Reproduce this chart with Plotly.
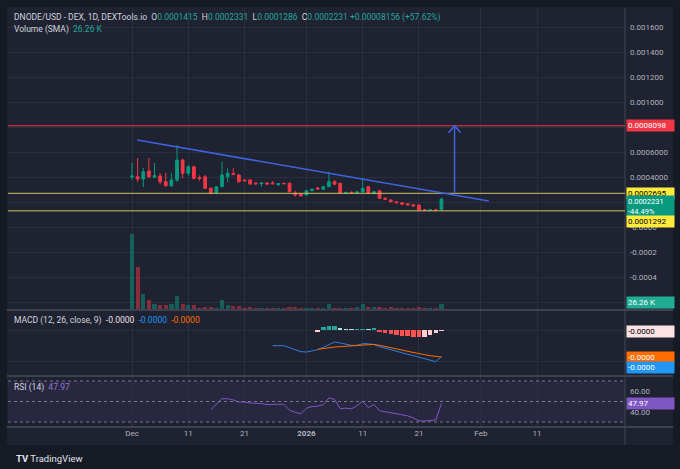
import pandas as pd
import plotly.graph_objects as go

FONT = "Roboto"
UP = "#089981"
DOWN = "#f23645"
BG_OUT = "#161a25"
BG_CHART = "#1e2231"
GRID = "#2a2f3e"
TXT = "#b2b5be"

# daily candles, Dec 1 2025 .. Jan 25 2026
dates = pd.date_range("2025-12-01", periods=56, freq="D")
opens = [0.000400, 0.000402, 0.000384, 0.000448, 0.000400, 0.000408, 0.000362, 0.000330,
         0.000376, 0.000536, 0.000430, 0.000482, 0.000396, 0.000402, 0.000310, 0.000270,
         0.000322, 0.000402, 0.000428, 0.000416, 0.000376, 0.000376, 0.000350, 0.000346,
         0.000352, 0.000352, 0.000338, 0.000348, 0.000350, 0.000272, 0.000264, 0.000256,
         0.000290, 0.000312, 0.000302, 0.000322, 0.000362, 0.000350, 0.000270, 0.000278,
         0.000272, 0.000280, 0.000322, 0.000268, 0.000290, 0.000230, 0.000216, 0.000202,
         0.000194, 0.000186, 0.000178, 0.000176, 0.000137, 0.000134, 0.000137, 0.0001415]
highs = [0.000512, 0.000552, 0.000472, 0.000552, 0.000512, 0.000430, 0.000434, 0.000434,
         0.000656, 0.000544, 0.000496, 0.000488, 0.000412, 0.000416, 0.000316, 0.000328,
         0.000522, 0.000470, 0.000470, 0.000424, 0.000382, 0.000382, 0.000362, 0.000356,
         0.000358, 0.000368, 0.000350, 0.000358, 0.000356, 0.000290, 0.000270, 0.000296,
         0.000310, 0.000320, 0.000330, 0.000442, 0.000376, 0.000352, 0.000284, 0.000284,
         0.000290, 0.000390, 0.000330, 0.000290, 0.000296, 0.000240, 0.000222, 0.000206,
         0.000200, 0.000192, 0.000182, 0.000180, 0.000142, 0.000140, 0.000141, 0.0002331]
lows = [0.000376, 0.000360, 0.000320, 0.000392, 0.000390, 0.000340, 0.000322, 0.000322,
        0.000362, 0.000392, 0.000410, 0.000380, 0.000370, 0.000304, 0.000262, 0.000262,
        0.000322, 0.000360, 0.000416, 0.000352, 0.000362, 0.000338, 0.000338, 0.000322,
        0.000340, 0.000342, 0.000330, 0.000344, 0.000280, 0.000242, 0.000246, 0.000252,
        0.000286, 0.000300, 0.000298, 0.000318, 0.000340, 0.000266, 0.000264, 0.000268,
        0.000264, 0.000276, 0.000266, 0.000262, 0.000226, 0.000218, 0.000198, 0.000190,
        0.000178, 0.000172, 0.000164, 0.000130, 0.000130, 0.000131, 0.000132, 0.0001286]
closes = [0.000408, 0.000384, 0.000442, 0.000402, 0.000410, 0.000362, 0.000330, 0.000376,
          0.000536, 0.000430, 0.000482, 0.000390, 0.000390, 0.000310, 0.000270, 0.000322,
          0.000416, 0.000430, 0.000420, 0.000362, 0.000370, 0.000344, 0.000346, 0.000352,
          0.000344, 0.000346, 0.000346, 0.000346, 0.000282, 0.000256, 0.000248, 0.000290,
          0.000302, 0.000304, 0.000322, 0.000362, 0.000342, 0.000270, 0.000276, 0.000272,
          0.000280, 0.000308, 0.000270, 0.000282, 0.000230, 0.000222, 0.000202, 0.000194,
          0.000182, 0.000176, 0.000168, 0.000136, 0.000134, 0.000137, 0.000135, 0.0002231]
volumes = [303000, 168500, 60600, 37600, 19000, 14900, 16200, 21400, 52500, 20200, 17400,
           16200, 5300, 8100, 6900, 4000, 37600, 16200, 10900, 10900, 5300, 8100, 4000, 2800,
           4000, 4000, 2800, 5300, 8100, 8100, 5300, 5300, 4000, 5300, 2800, 19000, 4000, 4000,
           4000, 2800, 8100, 19000, 9300, 8100, 9300, 4000, 6900, 2800, 4000, 4000, 5300, 8100,
           4000, 4000, 2800, 21400]
volume_sma_last = 26260

# MACD (12, 26, close, 9), values in millionths
macd_start = 25
macd_line = [-6.27, -6.27, -6.27, -7.07, -8.0, -8.67, -8.8, -8.4, -7.87, -6.93, -6.0, -4.8,
             -5.2, -5.73, -6.13, -6.13, -5.47, -5.47, -5.87, -6.67, -7.33, -7.87, -8.53,
             -9.07, -9.73, -10.27, -10.93, -11.6, -12.27, -12.67, -10.67]
signal_start = 33
signal_line = [-7.73, -7.33, -6.93, -6.8, -6.67, -6.53, -6.4, -6.27, -6.13, -5.87, -5.73,
               -6.13, -6.53, -6.93, -7.47, -8.0, -8.53, -9.07, -9.47, -9.87, -10.27, -10.67, -10.8]
macd_hist = [-0.6, 1.2, 1.6, 1.7, 0.9, 0.15, 0.15, 0.2, 0.4, 0.3, 0.5, -0.8, -1.2, -1.6,
             -2.0, -2.2, -2.4, -2.6, -2.8, -2.7, -2.0, -1.3, -0.4]

# RSI (14)
rsi_start = 14
rsi_values = [42, 47, 52.7, 52.7, 51.5, 49.5, 49.5, 48.5, 48.5, 48, 47, 47.5, 47.3, 47.3,
              41.5, 39.5, 38, 43.5, 45, 45.5, 47, 53.5, 52, 43, 43.5, 42.8, 46, 50.3, 44, 47,
              41, 40, 39, 38, 36.5, 36, 34, 31, 31, 31.5, 32, 47.97]

# drawings on the chart
trend_dates = ["2025-12-01 22:00", "2026-02-02 10:00"]
trend_prices = [0.000696, 0.000208]
arrow_date = "2026-01-27 08:00"
arrow_from = 0.000269
arrow_to = 0.00081
red_level = 0.0008098
yellow_levels = [0.0002695, 0.0001292]
change_pct = "-44.49%"

x_range = ["2025-11-08 23:00", "2026-02-26 15:00"]
x_tick_dates = ["2025-12-01", "2025-12-11", "2025-12-21", "2026-01-01",
                "2026-01-11", "2026-01-21", "2026-02-01", "2026-02-11"]
x_tick_text = ["Dec", "11", "21", "<b>2026</b>", "11", "21", "Feb", "11"]
price_ticks = [0.0016, 0.0014, 0.0012, 0.0010, 0.0008, 0.0006, 0.0004, 0.0002,
               0.0, -0.0002, -0.0004, -0.0006]
price_tick_text = ["0.001600", "0.001400", "0.001200", "0.001000", "", "0.0006000",
                   "0.0004000", "", "-0.0000", "-0.0002", "-0.0004", ""]

W, H = 680, 469
L, R, T, B = 8, 55, 8, 42


def px(x):
    return (x - L) / (W - L - R)


def py(y):
    return (H - B - y) / (H - T - B)


vol_colors = ["rgba(8,153,129,0.5)" if c >= o else "rgba(242,54,69,0.5)"
              for o, c in zip(opens, closes)]

hist_colors = []
for i, v in enumerate(macd_hist):
    prev = macd_hist[i - 1] if i > 0 else None
    if v >= 0:
        hist_colors.append("#26a69a" if prev is not None and v > prev else "#b2dfdb")
    else:
        hist_colors.append("#ff5252" if prev is not None and v < prev else "#ffcdd2")

fig = go.Figure()

fig.add_trace(go.Bar(
    x=dates, y=volumes, yaxis="y2", marker_color=vol_colors, marker_line_width=0,
    width=0.75 * 86400000, hoverinfo="skip"))

fig.add_trace(go.Candlestick(
    x=dates, open=opens, high=highs, low=lows, close=closes,
    increasing=dict(line=dict(color=UP, width=1), fillcolor=UP),
    decreasing=dict(line=dict(color=DOWN, width=1), fillcolor=DOWN),
    whiskerwidth=0, hoverinfo="skip"))

fig.add_trace(go.Bar(
    x=dates[signal_start:], y=macd_hist, yaxis="y3", marker_color=hist_colors,
    marker_line_width=0, width=0.8 * 86400000, hoverinfo="skip"))
fig.add_trace(go.Scatter(
    x=dates[macd_start:], y=macd_line, yaxis="y3", mode="lines",
    line=dict(color="#2f7fd8", width=1), hoverinfo="skip"))
fig.add_trace(go.Scatter(
    x=dates[signal_start:], y=signal_line, yaxis="y3", mode="lines",
    line=dict(color="#ff6d00", width=1), hoverinfo="skip"))

fig.add_trace(go.Scatter(
    x=dates[rsi_start:], y=rsi_values, yaxis="y4", mode="lines",
    line=dict(color="#7e57c2", width=1), hoverinfo="skip"))

shapes = []
# chart panel background
shapes.append(dict(type="rect", xref="paper", yref="paper", x0=px(7), x1=px(673),
                   y0=py(445), y1=py(7), fillcolor=BG_CHART, line_width=0, layer="below"))
# RSI band
shapes.append(dict(type="rect", xref="paper", yref="y4", x0=0, x1=1, y0=30, y1=70,
                   fillcolor="rgba(126,87,194,0.1)", line_width=0, layer="below"))
for lvl in [70, 50, 30]:
    shapes.append(dict(type="line", xref="paper", yref="y4", x0=0, x1=1, y0=lvl, y1=lvl,
                       line=dict(color="#787b86", width=1, dash="3px,3px")))
# separators
for sy in [310, 376, 427]:
    shapes.append(dict(type="line", xref="paper", yref="paper", x0=px(7), x1=px(673),
                       y0=py(sy), y1=py(sy), line=dict(color="#5d6170", width=1)))
shapes.append(dict(type="line", xref="paper", yref="paper", x0=1, x1=1,
                   y0=py(445), y1=py(8), line=dict(color="#434651", width=1)))
# horizontal levels
shapes.append(dict(type="line", xref="paper", yref="y", x0=0, x1=1, y0=red_level,
                   y1=red_level, line=dict(color=DOWN, width=1)))
for lvl in yellow_levels:
    shapes.append(dict(type="line", xref="paper", yref="y", x0=0, x1=1, y0=lvl, y1=lvl,
                       line=dict(color="#cfc45c", width=1)))
# trend line
shapes.append(dict(type="line", xref="x", yref="y", x0=trend_dates[0], x1=trend_dates[1],
                   y0=trend_prices[0], y1=trend_prices[1],
                   line=dict(color="#3f63e0", width=1.5)))
# target arrow
shapes.append(dict(type="line", xref="x", yref="y", x0=arrow_date, x1=arrow_date,
                   y0=arrow_from, y1=arrow_to, line=dict(color="#3f63e0", width=1.5)))
shapes.append(dict(type="path", xref="x", yref="y", xsizemode="pixel", ysizemode="pixel",
                   xanchor=arrow_date, yanchor=arrow_to, path="M-6,-7 L0,0 L6,-7",
                   line=dict(color="#3f63e0", width=1.5)))


def axis_label(text, y, yref, bg, fg, yshift=0, size=8):
    return dict(xref="paper", x=1, xanchor="left", xshift=1, yref=yref, y=y,
                yanchor="middle", yshift=yshift, text=text, showarrow=False,
                bgcolor=bg, font=dict(color=fg, size=size, family=FONT), borderpad=1,
                width=45, align="left")


def header(text, y):
    return dict(xref="paper", yref="paper", x=px(12), y=py(y), xanchor="left",
                yanchor="middle", text=text, showarrow=False,
                font=dict(color="#d1d4dc", size=8.5, family=FONT))


def teal(s):
    return '<span style="color:#26a69a">%s</span>' % s


annotations = [
    header("DNODE/USD - DEX, 1D, DEXTools.io  O" + teal("%.7f" % opens[-1]) + "  H"
           + teal("%.7f" % highs[-1]) + "  L" + teal("%.7f" % lows[-1]) + "  C"
           + teal("%.7f" % closes[-1]) + " " + teal("+0.00008156 (+57.62%)"), 17),
    header("Volume (SMA)  " + teal("26.26 K"), 29),
    header('MACD (12, 26, close, 9)  <span style="color:#f0e0e2">-0.0000</span>  '
           '<span style="color:#2196f3">-0.0000</span>  '
           '<span style="color:#ff6d00">-0.0000</span>', 320),
    header('RSI (14)  <span style="color:#9575cd">%.2f</span>' % rsi_values[-1], 387),
    axis_label("%.7f" % red_level, red_level, "y", DOWN, "white"),
    axis_label("%.7f" % yellow_levels[0], yellow_levels[0], "y", "#ffeb3b", "black"),
    axis_label("%.7f<br>%s" % (closes[-1], change_pct), closes[-1], "y", UP, "white",
               -7, 7.5),
    axis_label("%.7f" % yellow_levels[1], yellow_levels[1], "y", "#ffeb3b", "black", -11),
    axis_label("26.26 K", volume_sma_last, "y2", "#22ab94", "white"),
    axis_label("-0.0000", macd_hist[-1], "y3", "#fde2e4", "black"),
    axis_label("-0.0000", signal_line[-1], "y3", "#ff6d00", "white"),
    axis_label("-0.0000", macd_line[-1], "y3", "#2196f3", "white", -11),
    axis_label("%.2f" % rsi_values[-1], rsi_values[-1], "y4", "#7e57c2", "white"),
    dict(xref="paper", yref="paper", x=px(14), y=py(458), xanchor="left", yanchor="middle",
         text="<b>TV</b> TradingView", showarrow=False,
         font=dict(color="#e0e3eb", size=9.5, family=FONT)),
]

axis_font = dict(color=TXT, size=8, family=FONT)

fig.update_layout(
    width=W, height=H, margin=dict(l=L, r=R, t=T, b=B),
    paper_bgcolor=BG_OUT, plot_bgcolor="rgba(0,0,0,0)",
    showlegend=False, barmode="overlay", bargap=0,
    font=dict(family=FONT),
    shapes=shapes, annotations=annotations,
    xaxis=dict(domain=[0, 1], anchor="y4", type="date", range=x_range,
               rangeslider=dict(visible=False), showgrid=True, gridcolor=GRID,
               tickvals=x_tick_dates, ticktext=x_tick_text, tickfont=axis_font,
               ticks="", zeroline=False, showline=False),
    yaxis=dict(domain=[py(310), 1], side="right", range=[-0.000664, 0.001752],
               tickvals=price_ticks, ticktext=price_tick_text, tickfont=axis_font,
               gridcolor=GRID, zeroline=False, showline=False, ticks="",
               ticklabelstandoff=4),
    yaxis2=dict(overlaying="y", side="right", range=[-4040, 1216040], showgrid=False,
                showticklabels=False, zeroline=False),
    yaxis3=dict(domain=[py(376), py(310)], side="right", range=[-18.4, 8],
                tickvals=[0, -12.4], showticklabels=False, gridcolor=GRID,
                zeroline=False, showline=False, ticks=""),
    yaxis4=dict(domain=[0, py(376)], side="right", range=[25.1, 74.9],
                tickvals=[60, 40], ticktext=["60.00", "40.00"], tickfont=axis_font,
                showgrid=False, zeroline=False, showline=False, ticks="",
                ticklabelstandoff=4),
)

# the page body has a default 8px margin; drop it so the figure sits at the corner
fig.write_html("out.html", config={"displayModeBar": False}, post_script=(
    "document.body.style.margin='0';document.body.style.background='%s';" % BG_OUT))
